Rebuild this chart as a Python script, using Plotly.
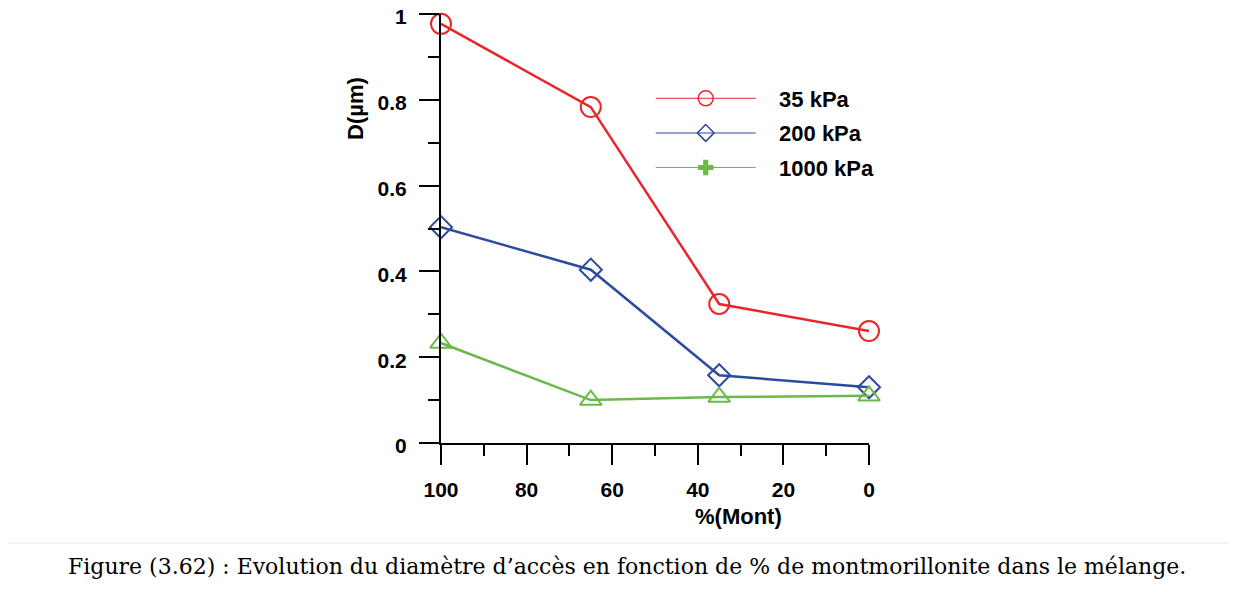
import plotly.graph_objects as go

mont = [100, 65, 35, 0]
d_35 = [0.977, 0.783, 0.324, 0.261]
d_200 = [0.503, 0.404, 0.158, 0.130]
d_1000 = [0.233, 0.100, 0.107, 0.110]
series_names = ["35 kPa", "200 kPa", "1000 kPa"]
y_ticks = [0, 0.2, 0.4, 0.6, 0.8, 1]
y_ticktext = ["0", "0.2", "0.4", "0.6", "0.8", "1"]
x_ticks = [100, 80, 60, 40, 20, 0]

RED = "#e8262a"
BLUE = "#2c4a9e"
GREEN = "#6cb94a"

fig = go.Figure()
# data traces
fig.add_trace(go.Scatter(x=mont, y=d_35, mode="lines+markers", showlegend=False,
                         line=dict(color=RED, width=2.5),
                         marker=dict(symbol="circle-open", size=20, color=RED, line=dict(width=2)),
                         cliponaxis=False))
fig.add_trace(go.Scatter(x=mont, y=d_200, mode="lines+markers", showlegend=False,
                         line=dict(color=BLUE, width=2.5),
                         marker=dict(symbol="diamond-open", size=17, color=BLUE, line=dict(width=2)),
                         cliponaxis=False))
fig.add_trace(go.Scatter(x=mont, y=d_1000, mode="lines+markers", showlegend=False,
                         line=dict(color=GREEN, width=2.5),
                         marker=dict(symbol="triangle-up-open", size=19, color=GREEN, line=dict(width=2)),
                         cliponaxis=False))
# legend entries
NB = "\u00a0\u00a0\u00a0"
fig.add_trace(go.Scatter(x=[None], y=[None], mode="lines+markers", name=NB + series_names[0],
                         legendgroup="a",
                         line=dict(color=RED, width=1),
                         marker=dict(symbol="circle-open", size=15, color=RED, line=dict(width=1.5))))
fig.add_trace(go.Scatter(x=[None], y=[None], mode="lines+markers", name=NB + series_names[1],
                         legendgroup="b",
                         line=dict(color="#6f86c2", width=1.5),
                         marker=dict(symbol="diamond-open", size=13, color=BLUE, line=dict(width=1.5))))
fig.add_trace(go.Scatter(x=[None], y=[None], mode="lines+markers", name=NB + series_names[2],
                         legendgroup="c",
                         line=dict(color=GREEN, width=1),
                         marker=dict(symbol="cross", size=13, color=GREEN, line=dict(width=0))))

axis_font = dict(family="Liberation Sans", size=21, color="black", weight="bold")

fig.update_layout(
    width=1236, height=592,
    margin=dict(l=433, r=375, t=6, b=157),
    paper_bgcolor="white", plot_bgcolor="white",
    font=dict(family="Liberation Sans", color="black"),
    xaxis=dict(range=[100, 0], tickvals=x_ticks, ticks="outside", ticklen=20, tickwidth=2,
               tickcolor="black", showline=True, linecolor="black", linewidth=2, automargin=False,
               showgrid=False, zeroline=False, tickfont=axis_font, ticklabelstandoff=7,
               ticklabeloverflow="allow",
               minor=dict(dtick=10, ticks="outside", ticklen=11, tickwidth=2, tickcolor="black", showgrid=False)),
    yaxis=dict(range=[0, 1], tickvals=y_ticks, ticktext=y_ticktext, ticks="outside", ticklen=20, tickwidth=2,
               tickcolor="black", showline=True, linecolor="black", linewidth=2, automargin=False,
               showgrid=False, zeroline=False, tickfont=axis_font, ticklabelstandoff=8,
               ticklabeloverflow="allow", ticklabelshift=3,
               minor=dict(dtick=0.1, ticks="outside", ticklen=11, tickwidth=2, tickcolor="black", showgrid=False)),
    legend=dict(x=0.49, y=0.852, xanchor="left", yanchor="top", itemwidth=100,
                font=dict(family="Liberation Sans", size=22, color="black", weight="bold"),
                bgcolor="rgba(0,0,0,0)", tracegroupgap=3, itemclick=False),
    annotations=[
        dict(text="<b>D(µm)</b>", x=(355 - 441) / 428, y=(443 - 109) / 429, xref="paper", yref="paper",
             xanchor="center", yanchor="middle",
             showarrow=False, textangle=-90, font=dict(family="Liberation Sans", size=22)),
        dict(text="<b>%(Mont)</b>", x=(738 - 441) / 428, y=-(516 - 443) / 429, xref="paper", yref="paper",
             xanchor="center", yanchor="middle",
             showarrow=False, font=dict(family="Liberation Sans", size=22)),
        dict(text="Figure (3.62) : Evolution du diamètre d’accès en fonction de % de montmorillonite dans le mélange.",
             x=(627 - 441) / 428, y=-(566 - 443) / 429, xref="paper", yref="paper", showarrow=False,
             xanchor="center", yanchor="middle",
             font=dict(family="DejaVu Serif", size=22, color="black")),
    ],
)
fig.add_shape(type="line", xref="paper", yref="paper", x0=-441 / 428, x1=(1236 - 441) / 428,
              y0=-(543 - 443) / 429, y1=-(543 - 443) / 429, line=dict(color="#e6e6e6", width=1))
fig.add_shape(type="line", xref="paper", yref="paper", x0=-441 / 428, x1=(1236 - 441) / 428,
              y0=(443 - 3) / 429, y1=(443 - 3) / 429, line=dict(color="#eeeeee", width=1))

fig.write_html("out.html")
